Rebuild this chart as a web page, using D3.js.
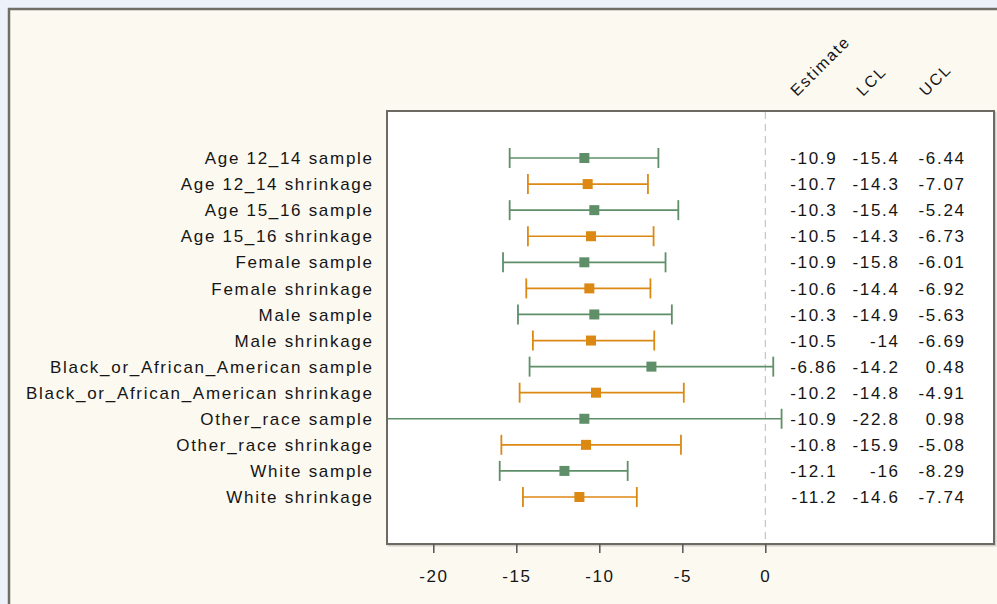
<!DOCTYPE html>
<html><head><meta charset="utf-8">
<script src="https://cdn.jsdelivr.net/npm/d3@7"></script>
<style>
html,body{margin:0;padding:0;background:#edf1f9;}
svg{display:block;}
text{font-family:"Liberation Sans",Arial,sans-serif;fill:#151515;}
</style></head>
<body>
<svg id="chart" width="997" height="604"></svg>
<script>
const categories = [
  "Age 12_14 sample","Age 12_14 shrinkage","Age 15_16 sample","Age 15_16 shrinkage",
  "Female sample","Female shrinkage","Male sample","Male shrinkage",
  "Black_or_African_American sample","Black_or_African_American shrinkage",
  "Other_race sample","Other_race shrinkage","White sample","White shrinkage"
];
const estimate = [-10.9,-10.7,-10.3,-10.5,-10.9,-10.6,-10.3,-10.5,-6.86,-10.2,-10.9,-10.8,-12.1,-11.2];
const lcl      = [-15.4,-14.3,-15.4,-14.3,-15.8,-14.4,-14.9,-14,-14.2,-14.8,-22.8,-15.9,-16,-14.6];
const ucl      = [-6.44,-7.07,-5.24,-6.73,-6.01,-6.92,-5.63,-6.69,0.48,-4.91,0.98,-5.08,-8.29,-7.74];
const seriesType = ["sample","shrinkage","sample","shrinkage","sample","shrinkage","sample","shrinkage","sample","shrinkage","sample","shrinkage","sample","shrinkage"];
const xTicks = [-20,-15,-10,-5,0];
const columnHeaders = ["Estimate","LCL","UCL"];

const colors = {sample:"#5e8f68", shrinkage:"#dc8914"};
const svg = d3.select("#chart");
const LS = 1.7; // letter spacing
const FS = "17px";

// outer panel
svg.append("rect").attr("x",9).attr("y",9).attr("width",1000).attr("height",610)
  .attr("fill","#fcf9f1").attr("stroke","#6f6f68").attr("stroke-width",2.5);

// plot box
const box = {x0:387, x1:994, y0:111, y1:544};
svg.append("rect").attr("x",box.x0+1.5).attr("y",box.y0+1.5).attr("width",box.x1-box.x0).attr("height",box.y1-box.y0)
  .attr("fill","none").attr("stroke","#cfcfc8").attr("stroke-width",2);
svg.append("rect").attr("x",box.x0).attr("y",box.y0).attr("width",box.x1-box.x0).attr("height",box.y1-box.y0)
  .attr("fill","#ffffff").attr("stroke","#6b6b64").attr("stroke-width",2);

const x = d3.scaleLinear().domain([-20,0]).range([433.3,765.3]);
const y = d3.scalePoint().domain(categories).range([158,497]);

svg.append("defs").append("clipPath").attr("id","clip")
  .append("rect").attr("x",box.x0+1).attr("y",box.y0+1).attr("width",box.x1-box.x0-2).attr("height",box.y1-box.y0-2);

// dashed zero line
svg.append("line").attr("x1",x(0)).attr("x2",x(0)).attr("y1",box.y0+1).attr("y2",box.y1-1)
  .attr("stroke","#b8b8b8").attr("stroke-width",1).attr("stroke-dasharray","7,5");

const g = svg.append("g").attr("clip-path","url(#clip)");
const rows = categories.map((c,i)=>({c, est:estimate[i], lo:lcl[i], hi:ucl[i], t:seriesType[i]}));
const rg = g.selectAll("g.row").data(rows).join("g").attr("class","row");
rg.append("line").attr("x1",d=>x(d.lo)).attr("x2",d=>x(d.hi)).attr("y1",d=>y(d.c)).attr("y2",d=>y(d.c))
  .attr("stroke",d=>colors[d.t]).attr("stroke-width",1.7);
rg.append("line").attr("x1",d=>x(d.lo)).attr("x2",d=>x(d.lo)).attr("y1",d=>y(d.c)-10).attr("y2",d=>y(d.c)+10)
  .attr("stroke",d=>colors[d.t]).attr("stroke-width",1.8);
rg.append("line").attr("x1",d=>x(d.hi)).attr("x2",d=>x(d.hi)).attr("y1",d=>y(d.c)-10).attr("y2",d=>y(d.c)+10)
  .attr("stroke",d=>colors[d.t]).attr("stroke-width",1.8);
rg.append("rect").attr("x",d=>x(d.est)-5).attr("y",d=>y(d.c)-5).attr("width",10).attr("height",10)
  .attr("fill",d=>colors[d.t]);

// category labels
svg.append("g").selectAll("text").data(categories).join("text")
  .attr("x",372+LS).attr("y",d=>y(d)).attr("dy","0.36em").attr("text-anchor","end")
  .style("font-size",FS).style("letter-spacing",LS+"px").text(d=>d);

// table values
const colX = [835.7, 898, 964];
[estimate,lcl,ucl].forEach((arr,j)=>{
  svg.append("g").selectAll("text").data(arr).join("text")
    .attr("x",colX[j]+LS).attr("y",(d,i)=>y(categories[i])).attr("dy","0.36em").attr("text-anchor","end")
    .style("font-size",FS).style("letter-spacing",LS+"px").text(d=>String(d));
});

// rotated headers
const hdrPos = [[797,97],[863,97],[926,97]];
svg.append("g").selectAll("text").data(columnHeaders).join("text")
  .attr("transform",(d,i)=>`translate(${hdrPos[i][0]},${hdrPos[i][1]}) rotate(-45)`)
  .style("font-size","16px").style("letter-spacing","1.8px").text(d=>d);

// x axis
const ax = svg.append("g").attr("transform",`translate(0,${box.y1})`)
  .call(d3.axisBottom(x).tickValues(xTicks).tickFormat(d=>String(d)).tickSize(9).tickPadding(17));
ax.select(".domain").remove();
ax.selectAll(".tick line").attr("stroke","#555").attr("stroke-width",1.5);
ax.selectAll(".tick text").style("font-size",FS).style("letter-spacing","1.5px")
  .style("font-family","'Liberation Sans',Arial,sans-serif").attr("fill","#151515");
</script>
</body></html>
